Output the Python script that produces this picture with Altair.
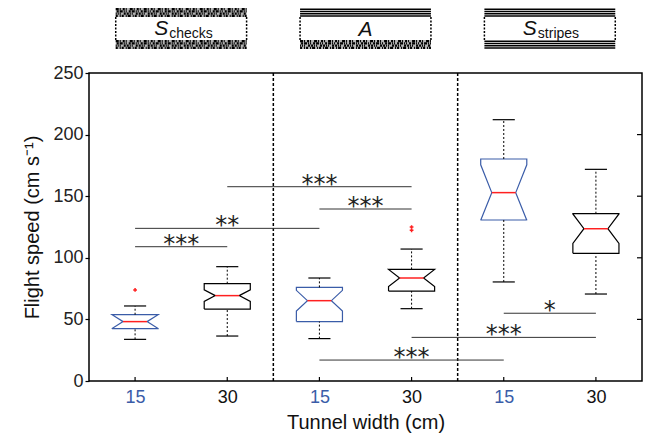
import json
import altair as alt
import pandas as pd

# ---------------- data ----------------
conditions = ["S_checks", "S_checks", "A", "A", "S_stripes", "S_stripes"]
tunnel_width = ["15", "30", "15", "30", "15", "30"]
whisker_low = [33.8, 36.5, 34.4, 58.7, 80.4, 70.6]
quartile1 = [42.5, 58.4, 48.2, 73.0, 130.7, 103.6]
median = [48.2, 69.3, 65.2, 83.6, 152.9, 123.6]
quartile3 = [53.8, 79.0, 76.0, 90.6, 180.2, 135.8]
whisker_high = [60.9, 92.8, 83.6, 107.1, 212.1, 171.8]
notch_low = [42.6, 64.6, 56.8, 76.6, 130.5, 111.7]
notch_high = [53.8, 74.0, 73.6, 90.6, 175.5, 135.6]

outlier_box = [0, 3, 3]
outlier_speed = [73.9, 122.3, 125.0]

sig_from = [0, 0, 1, 2, 2, 3, 4]
sig_to = [1, 2, 3, 3, 4, 5, 5]
sig_level = [109.0, 123.9, 157.7, 139.6, 17.0, 35.4, 55.0]
sig_stars = ["***", "**", "***", "***", "***", "***", "*"]

y_ticks = [0, 50, 100, 150, 200, 250]

stimulus_letter = ["S", "A", "S"]
stimulus_sub = ["checks", "", "stripes"]
stimulus_top = ["checks", "stripes", "stripes"]
stimulus_bottom = ["checks", "checks", "stripes"]

# ---------------- styles ----------------
W, H = 553, 308
BOX_HW, NOTCH_HW, CAP_HW, ICON_HW = 0.25, 0.13, 0.12, 0.71
BLUE = "#3a5ca8"
RED = "#ff2020"
FONT = "Liberation Sans"

xs = alt.Scale(domain=[-0.5, 5.5], nice=False, zero=False)
ys = alt.Scale(domain=[0, 250], nice=False, zero=False)

label_expr = json.dumps(tunnel_width).replace('"', "'") + "[datum.value]"
color_expr = label_expr + f" == '15' ? '{BLUE}' : '#111'"
x_axis = alt.Axis(
    values=list(range(6)), labelExpr=label_expr, ticks=False, domain=False, grid=False,
    labelFont=FONT, labelFontSize=18, labelPadding=7,
    labelColor={"expr": color_expr},
    title="Tunnel width (cm)", titleFont=FONT, titleFontSize=20, titleFontWeight="normal",
    titleColor="#111", titlePadding=6,
)
y_axis = alt.Axis(
    values=y_ticks, tickSize=4, tickColor="black", tickWidth=1.2, domain=False, grid=False,
    labelFont=FONT, labelFontSize=18, labelPadding=2, labelColor="#222",
    title="Flight speed (cm s⁻¹)", titleFont=FONT, titleFontSize=20, titleFontWeight="normal",
    titleColor="#111", titlePadding=10,
)

# ---------------- box outlines (notched) ----------------
rows = []
for i in range(6):
    q1, md, q3 = quartile1[i], median[i], quartile3[i]
    nl, nh = notch_low[i], notch_high[i]
    pts = [(-BOX_HW, q1), (BOX_HW, q1), (BOX_HW, nl), (NOTCH_HW, md), (BOX_HW, nh),
           (BOX_HW, q3), (-BOX_HW, q3), (-BOX_HW, nh), (-NOTCH_HW, md), (-BOX_HW, nl),
           (-BOX_HW, q1)]
    for k, (dx, yv) in enumerate(pts):
        rows.append({"box": i, "order": k, "pos": i + dx, "speed": yv, "width": tunnel_width[i]})
outline_df = pd.DataFrame(rows)

outline = alt.Chart(outline_df).mark_line(strokeWidth=1.2, strokeJoin="miter").encode(
    x=alt.X("pos:Q", scale=xs, axis=x_axis),
    y=alt.Y("speed:Q", scale=ys, axis=y_axis),
    color=alt.Color("width:N", scale=alt.Scale(domain=["15", "30"], range=[BLUE, "black"]), legend=None),
    detail="box:N",
    order="order:Q",
)

box_df = pd.DataFrame({
    "pos": list(range(6)), "wlo": whisker_low, "q1": quartile1, "med": median,
    "q3": quartile3, "whi": whisker_high, "width": tunnel_width,
})
box_df["med_l"] = box_df["pos"] - NOTCH_HW
box_df["med_r"] = box_df["pos"] + NOTCH_HW
box_df["cap_l"] = box_df["pos"] - CAP_HW
box_df["cap_r"] = box_df["pos"] + CAP_HW

base = alt.Chart(box_df)
noax_x = lambda f: alt.X(f, scale=xs, axis=None)
noax_y = lambda f: alt.Y(f, scale=ys, axis=None)

medians = base.mark_rule(color=RED, strokeWidth=1.5).encode(
    x=noax_x("med_l:Q"), x2="med_r:Q", y=noax_y("med:Q"))
whisk_lo = base.mark_rule(color="black", strokeWidth=1, strokeDash=[2, 2]).encode(
    x=noax_x("pos:Q"), y=noax_y("wlo:Q"), y2="q1:Q")
whisk_hi = base.mark_rule(color="black", strokeWidth=1, strokeDash=[2, 2]).encode(
    x=noax_x("pos:Q"), y=noax_y("q3:Q"), y2="whi:Q")
cap_lo = base.mark_rule(color="black", strokeWidth=1.2).encode(
    x=noax_x("cap_l:Q"), x2="cap_r:Q", y=noax_y("wlo:Q"))
cap_hi = base.mark_rule(color="black", strokeWidth=1.2).encode(
    x=noax_x("cap_l:Q"), x2="cap_r:Q", y=noax_y("whi:Q"))
bottom_ticks = base.mark_rule(color="black", strokeWidth=1.2).encode(
    x=noax_x("pos:Q"), y=alt.value(H - 4), y2=alt.value(H))

out_df = pd.DataFrame({"pos": outlier_box, "speed": outlier_speed})
outliers = alt.Chart(out_df).mark_point(shape="cross", filled=True, size=14, color=RED, opacity=1).encode(
    x=noax_x("pos:Q"), y=noax_y("speed:Q"))

# separators between stimulus groups
sep_df = pd.DataFrame({"sep": [i + 0.5 for i in range(5) if conditions[i] != conditions[i + 1]]})
separators = alt.Chart(sep_df).mark_rule(color="black", strokeWidth=1.5, strokeDash=[3, 2]).encode(
    x=noax_x("sep:Q"), y=alt.value(0), y2=alt.value(H))

# right-side inward ticks
rt_df = pd.DataFrame({"tick": y_ticks[1:-1]})
right_ticks = alt.Chart(rt_df).mark_rule(color="black", strokeWidth=1.2).encode(
    x=alt.value(W - 5), x2=alt.value(W), y=noax_y("tick:Q"))

# significance bars
sig_df = pd.DataFrame({"x1": sig_from, "x2": sig_to, "level": sig_level, "stars": sig_stars})
sig_df["mid"] = (sig_df["x1"] + sig_df["x2"]) / 2
sig_lines = alt.Chart(sig_df).mark_rule(color="#333", strokeWidth=1).encode(
    x=noax_x("x1:Q"), x2="x2:Q", y=noax_y("level:Q"))
sig_text = alt.Chart(sig_df).mark_text(font="DejaVu Sans", fontSize=24, baseline="alphabetic",
                                       dy=5, color="#222").encode(
    x=noax_x("mid:Q"), y=noax_y("level:Q"), text="stars:N")

# ---------------- stimulus icons above the plot ----------------
icon_df = pd.DataFrame({
    "center": [2 * k + 0.5 for k in range(3)],
    "letter": stimulus_letter, "sub": stimulus_sub,
    "top": stimulus_top, "bottom": stimulus_bottom,
})
icon_df["xl"] = icon_df["center"] - ICON_HW
icon_df["xr"] = icon_df["center"] + ICON_HW

TOP_BAND = (-65, -56)
BOT_BAND = (-33, -24)
check_dashes = [([3, 1, 1, 2, 2, 1, 1, 3], 0), ([1, 2, 2, 1, 3, 1, 1, 1], 2),
                ([2, 1, 1, 1, 1, 3, 2, 1], 1), ([1, 1, 3, 2, 1, 1, 2, 2], 3)]

icon_layers = []
for band, (y0, y1) in (("top", TOP_BAND), ("bottom", BOT_BAND)):
    sub_c = icon_df[icon_df[band] == "checks"]
    sub_s = icon_df[icon_df[band] == "stripes"]
    if len(sub_c):
        c = alt.Chart(sub_c)
        icon_layers.append(c.mark_rect(color="#b5b5b5").encode(
            x=noax_x("xl:Q"), x2="xr:Q", y=alt.value(y0), y2=alt.value(y1)))
        step = (y1 - y0) / 4
        for r, (dash, off) in enumerate(check_dashes):
            icon_layers.append(c.mark_rule(color="black", strokeWidth=step, strokeDash=dash,
                                           strokeDashOffset=off).encode(
                x=noax_x("xl:Q"), x2="xr:Q", y=alt.value(y0 + step * (r + 0.5))))
    if len(sub_s):
        c = alt.Chart(sub_s)
        step = (y1 - y0) / 4
        for r in range(4):
            icon_layers.append(c.mark_rule(color="black", strokeWidth=1.5).encode(
                x=noax_x("xl:Q"), x2="xr:Q", y=alt.value(y0 + step * (r + 0.5))))

ic = alt.Chart(icon_df)
for side in ("xl", "xr"):
    icon_layers.append(ic.mark_rule(color="black", strokeWidth=1.5, strokeDash=[2, 1.5]).encode(
        x=noax_x(f"{side}:Q"), y=alt.value(TOP_BAND[1]), y2=alt.value(BOT_BAND[0])))

with_sub = icon_df[icon_df["sub"] != ""]
no_sub = icon_df[icon_df["sub"] == ""]
icon_layers.append(alt.Chart(with_sub).mark_text(
    font=FONT, fontSize=21, fontStyle="italic", align="right", baseline="alphabetic",
    dx=-13, color="#111").encode(x=noax_x("center:Q"), y=alt.value(-38), text="letter:N"))
icon_layers.append(alt.Chart(with_sub).mark_text(
    font=FONT, fontSize=14, align="left", baseline="alphabetic",
    dx=-12, color="#111").encode(x=noax_x("center:Q"), y=alt.value(-35), text="sub:N"))
icon_layers.append(alt.Chart(no_sub).mark_text(
    font=FONT, fontSize=21, fontStyle="italic", align="center", baseline="alphabetic",
    color="#111").encode(x=noax_x("center:Q"), y=alt.value(-37), text="letter:N"))

chart = alt.layer(
    outline, separators, whisk_lo, whisk_hi, cap_lo, cap_hi, medians, outliers,
    sig_lines, sig_text, bottom_ticks, right_ticks, *icon_layers
).resolve_axis(
    x="independent", y="independent"
).properties(
    width=W, height=H,
    autosize=alt.AutoSizeParams(type="none"),
    padding={"left": 89, "top": 73, "right": 4, "bottom": 55},
).configure_view(stroke="black", strokeWidth=1.5)

chart.save("out.html", embed_options={"renderer": "svg", "actions": False})
